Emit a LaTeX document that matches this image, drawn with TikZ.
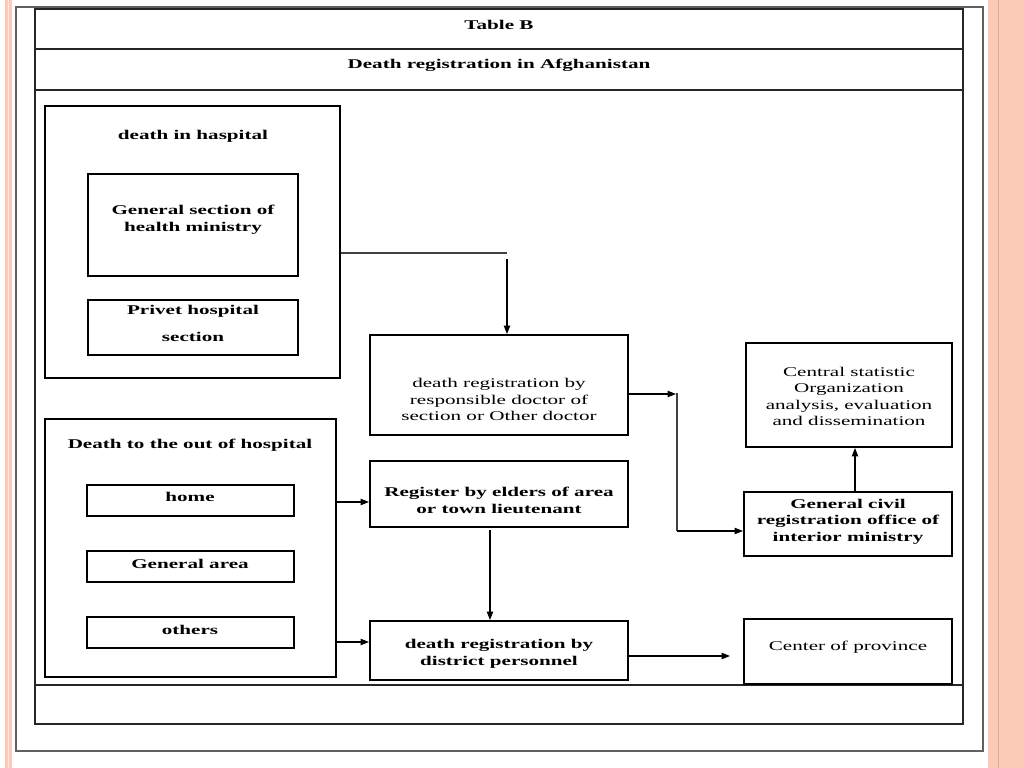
\documentclass[tikz,border=0pt]{standalone}
\usepackage{fontspec}
\usetikzlibrary{fit,arrows.meta}
\newfontfamily\diagfont{Liberation Serif}[FakeStretch=1.58]
\definecolor{salmon}{HTML}{FBCBB8}
\definecolor{salmondark}{HTML}{EFA78A}
\definecolor{framegray}{HTML}{606060}
\tikzset{
  x=0.025cm, y=-0.025cm,
  box/.style={draw=black, line width=1.4pt, inner sep=0pt, fill=none},
  tablebox/.style={draw=black!85, line width=1.5pt},
  txt/.style={align=center, inner sep=0pt, font=\diagfont\fontsize{9.5}{11.8}\selectfont},
  btxt/.style={txt, font=\diagfont\bfseries\fontsize{9.5}{11.8}\selectfont},
  arr/.style={draw=black, line width=0.9pt, -{Triangle[length=6pt,width=4.5pt]}},
  conn/.style={draw=black!75, line width=0.8pt},
}
\begin{document}
\begin{tikzpicture}
\useasboundingbox (0,0) rectangle (1024,768);
\fill[white] (0,0) rectangle (1024,768);
% side decorations
\fill[salmon] (5,0) rectangle (12,768);
\fill[white!60!salmon] (8,0) rectangle (9,768);
\fill[salmon] (988,0) rectangle (1024,768);
\draw[salmondark, line width=1.2pt] (998.5,0) -- (998.5,768);
% outer frame
\draw[framegray, line width=0.8pt] (16,7) rectangle (983,751);
% table
\draw[tablebox] (35,9) rectangle (963,724);
\draw[tablebox] (35,49) -- (963,49);
\draw[tablebox] (35,90) -- (963,90);
\draw[tablebox] (35,685) -- (963,685);
\node[btxt] (tabletitle) at (499,24.5) {Table B};
\node[btxt] (maintitle) at (499,65.5) {Death registration in Afghanistan};
% hospital group
\node[box, fit={(45,106)(340,378)}] (hosp) {};
\node[btxt] (hospt) at (193,136.5) {death in haspital};
\node[box, fit={(88,174)(298,276)}] (gsec) {};
\node[btxt] (gsect) at (193,219.5) {General section of\\health ministry};
\node[box, fit={(88,300)(298,355)}] (priv) {};
\node[btxt, font=\diagfont\bfseries\fontsize{9.5}{19}\selectfont] (privt) at (193,323.5) {Privet hospital\\section};
% out of hospital group
\node[box, fit={(45,419)(336,677)}] (outh) {};
\node[btxt] (outht) at (190,445.5) {Death to the out of hospital};
\node[box, fit={(87,485)(294,516)}] (home) {};
\node[btxt] (homet) at (190,496.5) {home};
\node[box, fit={(87,551)(294,582)}] (garea) {};
\node[btxt] (gareat) at (190,563.5) {General area};
\node[box, fit={(87,617)(294,648)}] (others) {};
\node[btxt] (otherst) at (190,629.5) {others};
% middle column
\node[box, fit={(370,335)(628,435)}] (doc) {};
\node[txt] (doct) at (499,399.5) {death registration by\\responsible doctor of\\section or Other doctor};
\node[box, fit={(370,461)(628,527)}] (elders) {};
\node[btxt] (elderst) at (499,500.5) {Register by elders of area\\or town lieutenant};
\node[box, fit={(370,621)(628,680)}] (district) {};
\node[btxt] (districtt) at (499,653.5) {death registration by\\district personnel};
% right column
\node[box, fit={(746,343)(952,447)}] (cso) {};
\node[txt] (csot) at (849,396.5) {Central statistic\\Organization\\analysis, evaluation\\and dissemination};
\node[box, fit={(744,492)(952,556)}] (gcr) {};
\node[btxt] (gcrt) at (848,521.5) {General civil\\registration office of\\interior ministry};
\node[box, fit={(744,619)(952,684)}] (cop) {};
\node[txt] (copt) at (848,647.5) {Center of province};
% connectors
\coordinate (c1) at (507,253);
\draw[conn] (c1 -| hosp.east) -- (c1);
\coordinate (c2) at (507,259);
\draw[arr] (c2) -- (c2 |- doc.north);
\coordinate (c3) at (676,394);
\draw[arr] (c3 -| doc.east) -- (c3);
\coordinate (c4) at (677,393);
\coordinate (c5) at (677,531);
\draw[conn] (c4) -- (c5);
\draw[arr] (c5) -- (c5 -| gcr.west);
\coordinate (c6) at (0,502);
\draw[arr] (c6 -| outh.east) -- (c6 -| elders.west);
\coordinate (c7) at (0,642);
\draw[arr] (c7 -| outh.east) -- (c7 -| district.west);
\coordinate (c8) at (490,530);
\draw[arr] (c8) -- (c8 |- district.north);
\coordinate (c9) at (730,656);
\draw[arr] (c9 -| district.east) -- (c9);
\coordinate (c10) at (855,0);
\draw[arr] (c10 |- gcr.north) -- (c10 |- cso.south);
\end{tikzpicture}
\end{document}
